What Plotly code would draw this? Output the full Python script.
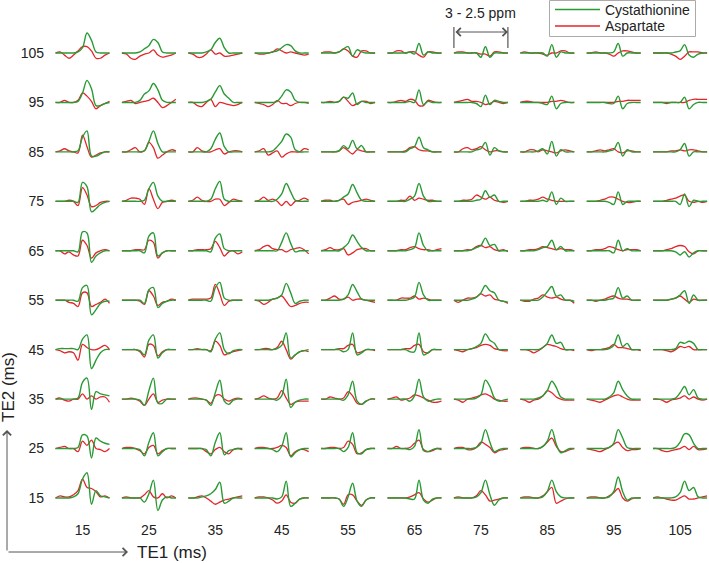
import plotly.graph_objects as go

TE1 = [15, 25, 35, 45, 55, 65, 75, 85, 95, 105]
TE2 = [105, 95, 85, 75, 65, 55, 45, 35, 25, 15]
SERIES_NAMES = ["Cystathionine", "Aspartate"]

# signal amplitudes (arbitrary units) at 13 equally spaced points across 3 - 2.5 ppm
G105 = [[0,0,0,0,0,1,5,19,12,1,0,0,0],[0,0,0,0,1,4,7,13,10,1,0,0,0],[0,0,0,0,1,3,10,14,5,0,0,0,0],[0,0,0,0,1,2,5,8,7,2,0,0,0],[0,0,0,0,1,4,6,-3,3,1,0,0,0],[0,0,0,0,0,1,-1,9,-2,1,0,0,0],[0,0,0,0,0,0,-4,6,-4,0,0,0,0],[0,0,0,0,0,0,-3,8,-4,1,0,0,0],[0,0,0,0,0,0,1,9,-3,0,0,0,0],[0,0,0,0,0,1,2,8,-2,-4,-1,0,0]]
R105 = [[0,1,-2,-5,-2,2,6,6,2,-5,-5,-2,0],[0,-1,-5,-6,-3,-1,0,3,-2,-4,-3,-2,0],[0,-1,-4,-4,-1,3,-1,0,-3,-3,-2,-1,0],[0,-1,-1,0,1,4,2,0,1,0,-1,-2,-1],[0,1,1,0,1,4,2,-3,-4,2,2,0,0],[0,0,2,2,0,1,1,-2,-4,1,1,0,0],[0,1,1,0,0,0,-1,-1,-3,1,1,0,0],[0,1,0,0,0,-1,-2,0,0,2,2,0,0],[0,0,1,0,0,-1,-3,0,2,2,1,0,0],[0,0,0,0,-1,-3,-6,-3,1,1,1,0,0]]
G95 = [[0,0,0,0,0,1,9,21,13,-3,-3,-1,0],[0,0,0,0,2,8,11,18,12,2,0,0,0],[0,0,0,0,1,3,10,16,8,4,0,0,0],[0,0,0,0,0,1,6,12,10,2,0,0,0],[0,0,0,0,1,5,4,9,-2,1,0,0,0],[0,0,0,0,0,1,0,12,-2,1,0,0,0],[0,0,0,0,0,-1,-4,7,-2,2,1,0,0],[0,0,0,0,0,-1,-2,6,-6,-1,0,0,0],[0,0,0,0,0,-1,-1,6,-6,-1,0,0,0],[0,0,0,0,0,0,0,5,-6,-2,0,0,0]]
R95 = [[0,0,2,0,0,2,9,6,1,-6,-3,-1,1],[0,1,2,-1,0,1,2,4,0,-5,-3,0,3],[0,0,-3,-4,0,3,-4,0,-1,-2,-3,-2,0],[0,-1,-2,-4,-2,2,-1,-1,-3,-1,0,0,-1],[0,0,1,0,1,5,1,-3,-1,1,1,-1,0],[0,0,1,2,1,3,2,-3,-3,2,1,0,0],[0,1,2,3,1,1,0,-2,-1,1,0,-1,0],[0,1,1,0,0,0,0,1,1,2,1,0,0],[0,0,0,0,0,0,0,1,1,2,2,2,2],[0,0,0,-1,0,0,0,0,2,3,3,3,3]]
G85 = [[0,0,0,0,0,1,14,20,-4,-4,-2,0,0],[0,0,0,0,0,1,10,20,8,0,0,0,0],[0,0,0,0,0,3,12,18,5,0,0,0,0],[0,0,0,0,1,5,10,17,14,2,0,0,0],[0,0,0,0,1,6,3,11,3,6,0,0,0],[0,0,0,0,0,3,5,14,4,2,0,0,0],[0,0,0,0,0,2,3,9,-3,4,1,0,0],[0,0,0,0,1,3,-2,10,-4,2,0,0,0],[0,0,0,0,0,1,2,9,-4,2,0,0,0],[0,0,0,0,0,0,2,8,-4,0,0,0,0]]
R85 = [[0,1,3,1,0,-1,16,5,-5,-3,-1,0,0],[0,0,2,4,0,1,9,4,-6,-3,0,2,1],[0,0,4,1,0,0,2,3,-2,0,1,1,0],[0,1,3,-3,-1,1,-5,-2,0,0,0,3,2],[0,0,0,0,1,4,1,-2,2,1,0,0,0],[0,0,0,0,1,4,5,2,1,1,0,0,0],[0,0,3,4,2,3,5,2,0,1,1,0,0],[0,0,2,2,0,2,1,0,-1,1,2,1,0],[0,0,1,2,1,2,3,0,-1,1,1,0,0],[0,0,0,0,1,1,2,1,2,2,1,0,0]]
G75 = [[0,0,0,0,0,-1,18,14,-10,-7,-3,-1,0],[0,0,0,0,0,1,12,18,5,0,0,0,0],[0,0,0,0,0,2,12,19,2,0,0,0,0],[0,0,0,0,0,2,7,17,9,1,0,0,0],[0,0,0,0,1,4,7,16,8,1,0,0,0],[0,0,0,0,0,2,5,17,5,0,0,0,0],[0,0,0,0,0,1,2,10,4,6,0,0,0],[0,0,0,0,0,1,0,9,-3,3,0,0,0],[0,0,0,0,0,-1,-3,9,-3,0,0,0,0],[0,0,0,0,0,0,-3,7,-5,1,0,0,0]]
R75 = [[0,0,0,1,0,-4,13,6,-5,-4,-1,0,0],[0,1,3,3,2,-3,12,2,-7,-1,0,1,0],[0,1,4,1,0,0,2,2,-4,-1,2,1,0],[0,1,4,1,2,0,-4,0,-4,0,1,3,1],[0,1,1,0,1,2,-3,-1,0,1,2,1,0],[0,0,0,1,1,5,1,3,2,1,1,0,0],[0,0,1,1,2,6,4,2,4,1,0,-1,0],[0,0,1,1,2,4,2,1,0,0,0,0,0],[0,0,0,1,2,4,4,2,0,-1,-1,0,0],[0,0,0,1,2,3,5,6,0,-1,0,-1,0]]
G65 = [[0,0,0,0,0,-1,18,17,-11,-5,-2,0,0],[0,0,0,0,0,-2,14,17,-5,-2,0,0,0],[0,0,0,0,0,-1,12,16,2,0,0,0,0],[0,0,0,0,0,0,8,17,7,-1,0,0,0],[0,0,0,0,0,3,7,15,9,3,0,0,0],[0,0,0,0,0,1,3,17,5,0,0,0,0],[0,0,0,0,1,3,5,12,5,6,0,0,0],[0,0,0,0,1,3,4,10,1,4,0,0,0],[0,0,0,0,0,0,-2,10,0,2,0,0,0],[0,0,0,0,0,-1,-4,-1,-6,-2,0,0,0]]
R65 = [[0,0,-3,-1,-4,-5,10,5,-7,-2,0,1,0],[0,0,0,1,1,1,10,8,-7,-2,0,0,0],[0,0,1,1,1,2,9,3,-5,-1,0,-3,-1],[0,1,4,5,2,1,1,-1,1,2,3,1,-3],[0,1,3,1,1,2,-4,-2,1,2,2,0,0],[0,0,0,1,1,3,4,2,1,1,0,1,2],[0,0,0,1,1,4,5,3,4,1,0,1,-1],[0,0,1,1,2,4,3,2,1,2,1,1,0],[0,0,1,1,2,4,3,1,0,1,1,1,0],[0,0,0,1,2,4,5,4,-1,-3,0,0,0]]
G55 = [[0,0,0,0,0,-1,12,14,-14,-9,-3,-1,-1],[0,0,0,0,0,-3,10,12,-7,-3,-1,0,0],[0,0,0,0,0,-1,12,17,2,0,0,0,0],[0,0,0,0,1,2,5,16,7,-3,-1,0,0],[0,0,0,0,0,1,5,15,8,1,0,0,0],[0,0,0,0,0,1,3,17,5,0,0,0,0],[0,0,0,0,1,3,7,14,9,7,0,-1,-2],[0,0,0,0,0,3,8,13,4,5,0,0,-1],[0,0,0,0,0,1,2,12,2,4,0,0,0],[0,0,0,0,1,2,5,9,-3,5,0,0,0]]
R55 = [[0,0,0,-2,-3,-6,7,7,-6,-4,-2,1,-3],[0,0,0,0,-1,-4,9,4,-5,-2,-1,1,0],[0,1,1,1,1,2,15,6,-5,-1,0,0,0],[0,-1,-4,-2,1,2,4,-1,-6,-5,-3,-2,-2],[0,0,2,4,1,1,3,0,1,1,0,-1,-2],[0,0,0,2,2,2,4,1,2,1,0,0,0],[0,-2,0,2,2,3,6,4,5,1,0,-1,-3],[0,-1,-1,1,2,5,3,2,3,1,0,0,-3],[0,0,-1,0,1,3,4,2,1,1,0,0,0],[0,0,0,0,1,2,4,1,-2,1,0,0,0]]
G45 = [[0,1,1,1,1,0,10,14,-18,-10,-3,0,0],[0,0,0,0,-1,-5,9,14,-8,-3,0,0,0],[0,0,0,0,0,-2,10,16,0,-4,-1,0,0],[0,0,0,0,0,1,4,16,-8,-5,-2,-1,0],[0,0,0,0,0,-2,0,16,-5,-3,0,0,0],[0,0,0,0,0,-2,-2,16,-5,-3,0,0,0],[0,0,0,0,1,3,6,15,9,6,0,0,0],[0,0,0,0,0,2,6,14,6,7,0,0,0],[0,0,0,0,0,1,4,14,3,6,0,0,0],[0,0,0,0,0,1,7,6,8,6,0,0,0]]
R45 = [[0,-1,-3,-2,-3,-10,5,2,0,0,2,4,0],[0,0,0,0,-2,-7,5,4,-6,-2,0,0,0],[0,0,1,0,0,-1,8,4,-5,-3,-2,-1,0],[0,0,1,1,0,2,8,0,-9,-5,-2,-1,-2],[0,0,0,0,1,1,4,5,-3,-2,0,0,-1],[0,0,0,0,1,1,4,5,-2,-3,0,0,0],[0,-1,-2,0,1,2,4,5,4,1,0,-1,-1],[0,0,-1,-3,-1,2,5,4,3,1,0,0,-1],[0,-1,0,0,1,2,5,2,2,1,0,0,-1],[0,0,0,-1,-2,0,3,2,3,0,0,0,0]]
G35 = [[0,0,0,0,0,1,16,20,-10,7,5,4,3],[0,0,0,0,-1,-6,8,20,-4,-4,0,0,0],[0,0,0,0,-1,-6,6,18,-2,-5,-1,0,0],[0,0,0,0,0,-1,3,19,-8,-3,-1,0,0],[0,0,0,0,0,-1,4,17,-2,-5,-2,0,0],[0,0,0,0,0,-2,3,19,2,-2,-1,0,0],[0,0,0,0,0,1,4,18,12,1,-2,-1,0],[0,0,0,0,1,3,8,17,11,2,0,0,0],[0,0,0,0,0,2,6,17,9,3,0,0,0],[0,0,0,0,0,1,6,12,4,9,1,0,0]]
R35 = [[0,1,-1,-2,0,0,5,0,3,0,2,2,-3],[0,0,1,0,-2,-6,0,5,-3,-1,0,0,0],[0,1,1,0,-1,-4,3,4,0,-2,0,1,0],[0,1,3,1,0,1,8,1,-5,-3,-2,-2,-2],[0,0,2,1,0,1,7,3,-4,-5,-2,0,0],[0,1,2,-1,0,1,4,3,1,-1,-3,-3,-2],[0,-1,-3,0,1,2,4,5,3,0,-1,-2,-2],[0,-1,-3,-1,0,3,8,6,2,0,-1,-1,-1],[0,-1,-2,-3,-1,1,3,4,2,0,-1,-1,-1],[0,0,-1,-3,-1,0,1,3,0,2,0,-1,0]]
G25 = [[0,0,0,0,0,1,13,12,-9,10,7,5,4],[0,0,0,0,-1,-7,6,15,-7,-3,0,0,0],[0,0,0,0,-1,-7,6,15,-6,-2,-1,0,0],[0,0,0,0,-1,-3,2,15,-8,-4,-1,0,0],[0,0,0,0,0,-3,1,15,-4,-5,-1,0,0],[0,0,0,0,0,-1,2,18,-2,-3,-1,0,0],[0,0,0,0,0,1,5,18,6,-3,-1,0,0],[0,0,0,0,0,2,7,18,4,-4,-2,0,0],[0,0,0,0,0,1,5,18,10,1,0,0,0],[0,0,0,0,0,1,6,14,13,5,0,0,0]]
R25 = [[0,1,2,0,0,-3,7,3,8,0,-1,-3,0],[0,1,1,0,-2,-5,1,3,-5,-2,0,0,0],[0,0,0,0,-3,-5,-1,1,-3,-5,-1,0,-1],[0,1,1,0,0,1,3,1,-7,-3,-1,-1,-3],[0,0,1,1,0,1,7,4,-5,-4,-1,0,0],[0,0,2,0,0,1,5,8,-1,-3,-2,0,-1],[0,1,1,-1,-1,1,6,4,1,-4,-2,-1,0],[0,1,1,0,0,2,6,10,2,-3,-3,-1,0],[0,-1,-2,-3,-1,1,4,6,1,-2,-1,-1,0],[0,0,-2,-3,-2,-1,0,2,-1,2,-1,-1,0]]
G15 = [[0,0,0,0,1,4,18,24,-6,7,2,1,0],[0,0,0,0,0,-4,4,17,-12,-2,1,0,0],[0,0,0,1,2,4,8,15,-5,-3,0,0,0],[0,0,0,0,0,-1,1,16,-8,-5,-1,0,0],[0,0,0,0,-1,-8,1,14,-3,-8,-2,0,0],[0,0,0,0,0,-1,-1,17,-2,-5,-1,0,0],[0,0,0,0,0,1,5,17,3,-7,-2,0,0],[0,0,0,0,0,1,6,17,6,1,0,0,0],[0,0,0,0,0,1,6,20,6,-2,0,0,0],[0,0,0,0,0,1,5,16,7,10,1,0,0]]
R15 = [[0,2,1,1,3,7,18,10,9,6,1,2,0],[0,1,0,0,0,3,7,1,0,4,0,2,0],[0,0,1,2,0,-3,-6,-4,-2,-1,0,1,2],[0,1,1,0,-2,-5,-3,3,-4,-5,-1,0,0],[0,0,0,0,-1,-6,3,3,-3,-7,-2,0,0],[0,0,0,0,0,1,3,5,-1,-4,-2,0,0],[0,1,0,0,0,2,7,3,-3,-2,-1,0,0],[0,1,1,0,0,2,6,10,-5,-3,-1,0,0],[0,1,1,0,0,2,5,9,0,-3,-1,0,0],[0,1,0,-1,-2,-2,0,2,-1,-1,0,1,2]]

GREEN = [G105, G95, G85, G75, G65, G55, G45, G35, G25, G15]
RED = [R105, R95, R85, R75, R65, R55, R45, R35, R25, R15]

# geometry / style
W, H = 709, 563
ML, MB = 48, 43
PX_X = 6.64          # px per TE1 ms
PX_Y = 4.944         # px per TE2 ms
CELL_W = 8.13        # width of each spectrum in TE1 units
AMP = 1.05 / PX_Y    # amplitude unit -> TE2 units
GREEN_C = "#2a9a35"
RED_C = "#e3262b"
GREY = "#555555"
FONT = "Arial, Liberation Sans, sans-serif"

plot_w = W - ML
plot_h = H - MB
x0 = TE1[0] - (82.5 - ML) / PX_X
x1 = x0 + plot_w / PX_X
ytop = TE2[0] + 53 / PX_Y
ybot = ytop - plot_h / PX_Y


def build(series):
    xs, ys = [], []
    for r, te2 in enumerate(TE2):
        for c, te1 in enumerate(TE1):
            vals = series[r][c]
            n = len(vals)
            for i, v in enumerate(vals):
                xs.append(te1 - CELL_W / 2 + CELL_W * i / (n - 1))
                ys.append(te2 + v * AMP)
            xs.append(None)
            ys.append(None)
    return xs, ys


def px_to_paper_x(px):
    return (px - ML) / plot_w


def px_to_paper_y(py):
    return 1 - py / plot_h


fig = go.Figure()
rx, ry = build(RED)
gx, gy = build(GREEN)
fig.add_trace(go.Scatter(x=rx, y=ry, mode="lines", name=SERIES_NAMES[1],
                         line=dict(color=RED_C, width=1.3, shape="spline", smoothing=1.0),
                         connectgaps=False, showlegend=False))
fig.add_trace(go.Scatter(x=gx, y=gy, mode="lines", name=SERIES_NAMES[0],
                         line=dict(color=GREEN_C, width=1.4, shape="spline", smoothing=1.0),
                         connectgaps=False, showlegend=False))

# legend box (drawn manually to match the compact original)
fig.add_shape(type="rect", xref="paper", yref="paper",
              x0=px_to_paper_x(549.5), x1=px_to_paper_x(695.5),
              y0=px_to_paper_y(36.5), y1=px_to_paper_y(0.5),
              line=dict(color="#aaaaaa", width=1), fillcolor="white")
for name, col, py in [(SERIES_NAMES[0], GREEN_C, 9.5), (SERIES_NAMES[1], RED_C, 26)]:
    fig.add_shape(type="line", xref="paper", yref="paper",
                  x0=px_to_paper_x(555), x1=px_to_paper_x(600),
                  y0=px_to_paper_y(py), y1=px_to_paper_y(py),
                  line=dict(color=col, width=1.5))
    fig.add_annotation(x=px_to_paper_x(603), y=px_to_paper_y(py), xref="paper", yref="paper",
                       text=name, showarrow=False, xanchor="left", yanchor="middle",
                       font=dict(family=FONT, size=14, color="#222222"))

# "3 - 2.5 ppm" span marker over the TE1 = 75 column
xa = TE1[6] - CELL_W / 2
xb = TE1[6] + CELL_W / 2
y_arrow = ytop - 32 / PX_Y
for xv in (xa, xb):
    fig.add_shape(type="line", x0=xv, x1=xv, y0=ytop - 27 / PX_Y, y1=ytop - 48 / PX_Y,
                  xref="x", yref="y", line=dict(color=GREY, width=1.2))
fig.add_annotation(x=xb, y=y_arrow, ax=xa, ay=y_arrow, xref="x", yref="y", axref="x", ayref="y",
                   text="", showarrow=True, arrowhead=4, arrowside="end+start", arrowsize=1.6,
                   arrowwidth=1, arrowcolor=GREY)
fig.add_annotation(x=(xa + xb) / 2, y=ytop - 13 / PX_Y, xref="x", yref="y", text="3 - 2.5 ppm",
                   showarrow=False, xanchor="center", yanchor="middle",
                   font=dict(family=FONT, size=14, color="#222222"))

# axis direction arrows (bottom-left)
fig.add_annotation(x=px_to_paper_x(128), y=px_to_paper_y(552), xref="paper", yref="paper",
                   ax=-121, ay=0, axref="pixel", ayref="pixel", text="", showarrow=True,
                   arrowhead=4, arrowsize=1.6, arrowwidth=1, arrowcolor=GREY)
fig.add_annotation(x=px_to_paper_x(7), y=px_to_paper_y(430), xref="paper", yref="paper",
                   ax=0, ay=122, axref="pixel", ayref="pixel", text="", showarrow=True,
                   arrowhead=4, arrowsize=1.6, arrowwidth=1, arrowcolor=GREY)
fig.add_annotation(x=px_to_paper_x(172), y=px_to_paper_y(552), xref="paper", yref="paper",
                   text="TE1 (ms)", showarrow=False, xanchor="center", yanchor="middle",
                   font=dict(family=FONT, size=17, color="#222222"))
fig.add_annotation(x=px_to_paper_x(8), y=px_to_paper_y(387), xref="paper", yref="paper",
                   text="TE2 (ms)", showarrow=False, textangle=-90, xanchor="center", yanchor="middle",
                   font=dict(family=FONT, size=17, color="#222222"))

fig.update_layout(
    width=W, height=H,
    margin=dict(l=ML, r=0, t=0, b=MB),
    paper_bgcolor="white", plot_bgcolor="white",
    font=dict(family=FONT, size=13, color="#222222"),
    xaxis=dict(range=[x0, x1], tickvals=TE1, ticktext=[str(v) for v in TE1],
               showgrid=False, zeroline=False, showline=False, ticks="",
               tickfont=dict(size=14, family=FONT, color="#222222")),
    yaxis=dict(range=[ybot, ytop], tickvals=TE2, ticktext=[str(v) for v in TE2],
               showgrid=False, zeroline=False, showline=False, ticks="",
               ticklabelstandoff=3,
               tickfont=dict(size=14, family=FONT, color="#222222")),
    showlegend=False,
)

fig.write_html("out.html")
